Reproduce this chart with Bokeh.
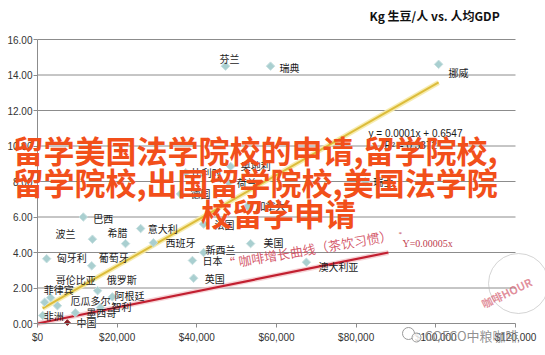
import math
from bokeh.plotting import figure
from bokeh.models import ColumnDataSource, Label, NumeralTickFormatter, FixedTicker, Range1d, PolyAnnotation
from bokeh.core.properties import value
from bokeh.embed import file_html
from bokeh.resources import INLINE

# ---------------- data ----------------
countries = ["芬兰", "瑞典", "挪威", "瑞士", "比利时", "奥地利", "荷兰", "德国", "加拿大", "法国",
             "巴西", "美国", "新西兰", "日本", "英国", "澳大利亚", "波兰", "希腊", "西班牙", "意大利",
             "葡萄牙", "匈牙利", "俄罗斯", "哥伦比亚", "菲律宾", "厄瓜多尔", "阿根廷", "智利", "墨西哥", "非洲"]
gdp = [47200, 58500, 100700, 82300, 37200, 48500, 48000, 35900, 52700, 41700,
       11500, 53500, 41700, 38900, 39200, 67500, 13800, 22100, 29100, 25900,
       13600, 2300, 15100, 3300, 1800, 5000, 18800, 15800, 9500, 1300]
kg = [14.5, 14.5, 14.6, 8.0, 8.5, 8.85, 7.95, 7.3, 6.6, 5.6,
      6.0, 4.5, 4.0, 3.55, 2.55, 3.45, 4.75, 4.5, 4.55, 5.35,
      3.25, 3.65, 1.85, 1.45, 1.2, 1.0, 1.5, 0.9, 0.6, 0.45]
china_name = ["中国"]
china_gdp = [7500]
china_kg = [0.05]

# trendlines (end points)
coffee_trend_x = [1300, 100700]
coffee_trend_y = [0.85, 13.58]
tea_trend_x = [0, 88100]
tea_trend_y = [0.0, 4.0]

y_ticks = [0, 2, 4, 6, 8, 10, 12, 14, 16]
x_ticks = [0, 20000, 40000, 60000, 80000, 100000, 120000]

title_text = "Kg 生豆/人 vs. 人均GDP"
eq_text = "y = 0.0001x + 0.6547"
r2_text = "R² = 0.3372"
tea_eq_text = "Y=0.00005x"
note_text = "“ 咖啡增长曲线（茶饮习惯）"
overlay_lines = ["留学美国法学院校的申请,留学院校,", "留学院校,出国留学院校,美国法学院", "校留学申请"]
wm_text = "COFCO中粮咖啡"
stamp_text = "咖啡HOUR"

# label offsets (screen px, label centre relative to its point)
lbl_dx = [4, 19, 20, 18, 21, 25, 18, 20, 23, 21,
          20, 23, 17, 20, 21, 32, -27, -8, 27, 22,
          22, 25, 24, 25, 14, 33, 17, 21, 26, 11]
lbl_dy = [-8, 1, 8, 0, 0, -1, 0, 0, -1, 0,
          1, -1, -3, 0, 0, 4, -6, -11, 0, 0,
          -8, -1, -11, -18, -13, -5, -1, -1, 0, 0]

# ---------------- layout helpers (screen px -> data) ----------------
W, H = 545, 355
L, R, T, B = 37, 515, 39, 323          # pixel box of the value area
XMAX, YMAX = 120000, 16
def X(px):
    return (px - L) / (R - L) * XMAX
def Y(py):
    return (B - py) / (B - T) * YMAX

p = figure(width=W, height=H, x_range=Range1d(X(0), X(W)), y_range=Range1d(Y(H), Y(0)),
           output_backend="svg", toolbar_location=None,
           min_border_left=0, min_border_right=0, min_border_top=0, min_border_bottom=0)
p.outline_line_color = None
p.background_fill_color = "white"
p.border_fill_color = "white"
p.xgrid.grid_line_color = None
p.ygrid.grid_line_color = None

# axes pinned at the origin (library axes, fixed location)
p.yaxis.fixed_location = 0
p.xaxis.fixed_location = 0
p.yaxis.bounds = (0, YMAX)
p.xaxis.bounds = (0, XMAX)
p.yaxis.ticker = FixedTicker(ticks=y_ticks)
p.xaxis.ticker = FixedTicker(ticks=x_ticks)
p.yaxis.formatter = NumeralTickFormatter(format="0.00")
p.xaxis.formatter = NumeralTickFormatter(format="$0,0")
for ax in (p.xaxis, p.yaxis):
    ax.axis_line_color = "#8c8c8c"
    ax.major_tick_line_color = "#8c8c8c"
    ax.major_tick_out = 4
    ax.major_tick_in = 0
    ax.minor_tick_line_color = None
    ax.major_label_text_font = "Liberation Sans"
    ax.major_label_text_font_size = "10px"
    ax.major_label_text_color = "#333333"
p.yaxis.major_label_standoff = 1
p.xaxis.major_label_standoff = 4

# horizontal gridlines across the value area
grid_y = [t for t in y_ticks if t > 0]
p.segment(x0=[0] * len(grid_y), x1=[XMAX] * len(grid_y), y0=grid_y, y1=grid_y,
          line_color="#8c8c8c", line_width=1)

# trendlines
p.line(coffee_trend_x, coffee_trend_y, line_color="#f6eaa6", line_width=5, line_alpha=0.9)
p.line(coffee_trend_x, coffee_trend_y, line_color="#dcbc3a", line_width=2)
p.line(tea_trend_x, tea_trend_y, line_color="#f2c0c4", line_width=5, line_alpha=0.7)
p.line(tea_trend_x, tea_trend_y, line_color="#c21f30", line_width=2.2)

# points
src = ColumnDataSource(dict(x=gdp, y=kg, name=countries, dx=lbl_dx, dy=lbl_dy))
p.scatter("x", "y", source=src, marker="square", angle=math.pi / 4, size=6,
          fill_color="#a9cfd0", line_color="#c7e0e0", line_width=1)
p.scatter(china_gdp, china_kg, marker="square", angle=math.pi / 4, size=4,
          fill_color="#8b1f24", line_color="#8b1f24")
p.text("x", "y", text="name", source=src, x_offset="dx", y_offset="dy",
       text_font=value("Noto Sans CJK SC"), text_font_size="10px", text_color="#1a1a1a",
       text_align="center", text_baseline="middle")
p.text(china_gdp, china_kg, text=china_name, x_offset=19, y_offset=0,
       text_font=value("Noto Sans CJK SC"), text_font_size="10px", text_color="#1a1a1a",
       text_align="center", text_baseline="middle")

def lab(text, px, py, size, color="#1a1a1a", font="Noto Sans CJK SC", style="normal",
        align="left", angle=0.0, alpha=1.0):
    p.add_layout(Label(x=X(px), y=Y(py), text=text, text_font=font, text_font_size=size,
                       text_color=color, text_font_style=style, text_align=align,
                       text_baseline="middle", angle=angle, text_alpha=alpha, level="overlay"))

# equations / notes
lab(eq_text, 368, 133, "10px", font="Liberation Sans")
lab(r2_text, 384, 145, "10px", font="Liberation Sans")
lab("*", 398, 233, "7px", color="#c0404f", font="Liberation Serif")
lab(tea_eq_text, 402, 243, "10px", color="#c0404f", font="Liberation Serif")
lab(note_text, 307, 249, "13px", color="#d0485a", align="center", angle=0.17, alpha=0.9)

# title
lab(title_text, 369, 15, "12px", color="#111111", style="bold")

# stamp watermark
cx, cy, rr = 518, 283, 30
pts = [(cx + rr * math.cos(a / 24 * 2 * math.pi), cy + rr * math.sin(a / 24 * 2 * math.pi)) for a in range(24)]
p.add_layout(PolyAnnotation(xs=[X(a) for a, b in pts], ys=[Y(b) for a, b in pts],
                            fill_color=None, line_color="#b8b8b8", line_alpha=0.6, line_width=1,
                            level="overlay"))
lab(stamp_text, 506, 292, "11px", color="#d05064", style="bold", align="center", angle=0.45, alpha=0.65)

# wechat-style watermark
p.scatter([X(408), X(416)], [Y(333), Y(337)], marker="circle", size=[12, 9],
          fill_color="white", fill_alpha=0.8, line_color="#9a9a9a", line_width=1, level="overlay")
lab(wm_text, 424, 335, "13px", color="#8a8a8a", alpha=0.95)

# big overlay text
lab(overlay_lines[0], 12, 149, "31px", color="#f24f1a", style="bold")
lab(overlay_lines[1], 12, 181, "31px", color="#f24f1a", style="bold")
lab(overlay_lines[2], 278, 212, "31px", color="#f24f1a", style="bold", align="center")

open("out.html", "w").write(file_html(p, INLINE))
